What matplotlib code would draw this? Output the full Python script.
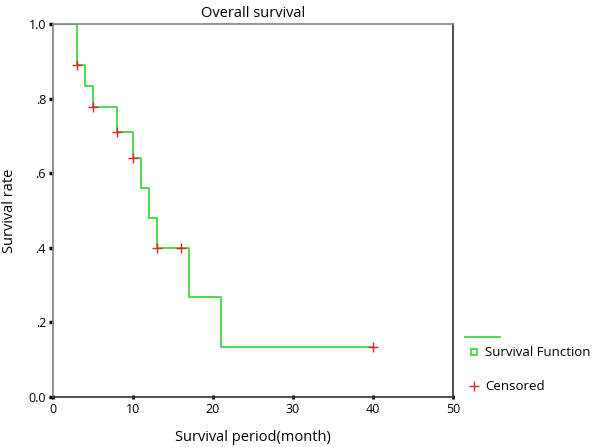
import matplotlib.pyplot as plt
from matplotlib.lines import Line2D

plt.rcParams['font.family'] = ['Open Sans', 'DejaVu Sans']

# Kaplan-Meier step data
times = [0, 3, 4, 5, 8, 10, 11, 12, 13, 17, 21, 40]
surv = [1.0, 0.889, 0.833, 0.778, 0.711, 0.640, 0.560, 0.480, 0.400, 0.267, 0.133, 0.133]

# censored observations
cens_t = [3, 5, 8, 10, 13, 16, 40]
cens_s = [0.889, 0.778, 0.711, 0.640, 0.400, 0.400, 0.133]

xticks = [0, 10, 20, 30, 40, 50]
yticks = [0.0, 0.2, 0.4, 0.6, 0.8, 1.0]
ytick_labels = ['0.0', '.2', '.4', '.6', '.8', '1.0']

green = '#3ed83e'
red = '#e8202a'

fig = plt.figure(figsize=(6, 4.47), dpi=100)
ax = fig.add_axes([53 / 600, 50 / 447, 400 / 600, 373 / 447])

ax.step(times, surv, where='post', color=green, lw=1.3)
ax.plot(cens_t, cens_s, '+', color=red, ms=7, mew=1.0, ls='none')

ax.set_xlim(0, 50)
ax.set_ylim(0, 1.0)
ax.set_xticks(xticks)
ax.set_yticks(yticks)
ax.set_yticklabels(ytick_labels)
ax.tick_params(axis='both', labelsize=9)
ax.tick_params(axis='y', direction='out', length=3, width=2.5, pad=2)
ax.tick_params(axis='x', direction='inout', length=3, width=2, pad=3)

for side in ['top', 'left']:
    ax.spines[side].set_color('#808080')
for side in ['bottom', 'right']:
    ax.spines[side].set_color('#303030')
for sp in ax.spines.values():
    sp.set_linewidth(1.2)

ax.set_title('Overall survival', fontsize=10.5, pad=5)
ax.set_xlabel('Survival period(month)', fontsize=10.5, labelpad=10)
ax.set_ylabel('Survival rate', fontsize=10.5, labelpad=8)

# legend drawn at the right like the original
fig.add_artist(Line2D([465 / 600, 500 / 600], [1 - 337 / 447] * 2, color=green, lw=1.3))
fig.add_artist(Line2D([474 / 600], [1 - 352 / 447], marker='s', ms=4, mfc='white',
                      mec=green, mew=1.2, ls='none'))
fig.text(485 / 600, 1 - 352 / 447, 'Survival Function', fontsize=9.5, va='center')
fig.add_artist(Line2D([474 / 600], [1 - 386 / 447], marker='+', ms=7, color=red,
                      mew=1.0, ls='none'))
fig.text(485 / 600, 1 - 387 / 447, 'Censored', fontsize=9.5, va='center')

fig.savefig('out.png', dpi=100)
